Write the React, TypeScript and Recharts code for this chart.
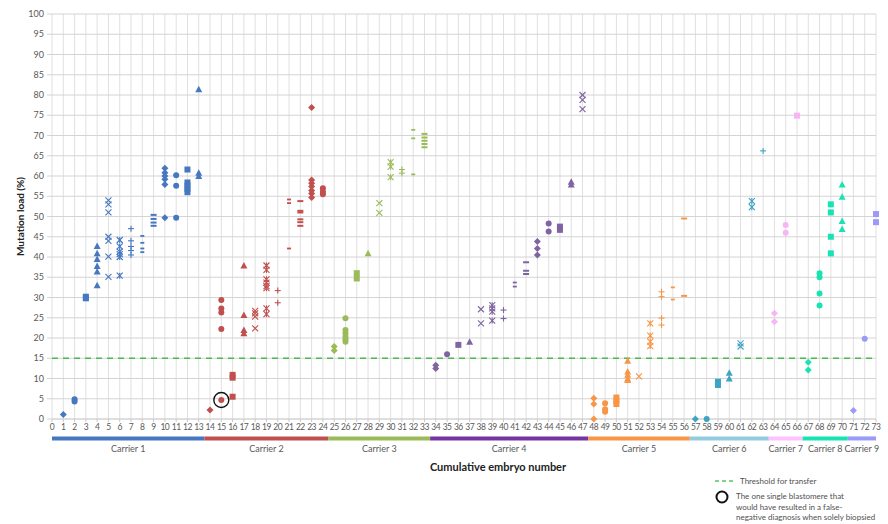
import {
  ScatterChart,
  Scatter,
  XAxis,
  YAxis,
  CartesianGrid,
  ReferenceLine,
  ReferenceArea,
  ReferenceDot,
} from "recharts";

// mutation load (%) of each blastomere, grouped by embryo, one list per carrier
const carrierNames = ["Carrier 1", "Carrier 2", "Carrier 3", "Carrier 4", "Carrier 5", "Carrier 6", "Carrier 7", "Carrier 8", "Carrier 9"];

const carrier1Loads = [
  [1.1],
  [4.9, 4.3],
  [30.2, 29.8],
  [42.7, 40.9, 39.5, 37.8, 36.4, 33],
  [54, 53, 51, 45, 44, 40.1, 35.1],
  [44.2, 42.6, 41.3, 40.7, 40, 35.4],
  [47, 44, 42.6, 41.6, 40.5],
  [45.2, 43.5, 42.1, 41.2],
  [50.4, 49.4, 48.5, 47.7],
  [61.9, 60.8, 60, 59.2, 57.9, 49.7],
  [60.2, 57.6, 49.7],
  [61.6, 58.4, 57.6, 56.8, 56],
  [81.4, 60.8, 60],
];
const carrier2Loads = [
  [2.2],
  [29.4, 27.3, 26.3, 22.2, 4.7],
  [10.9, 10.2, 5.5],
  [37.9, 25.7, 22, 21.2],
  [26.7, 26.1, 25.3, 22.4],
  [37.9, 36.8, 34.5, 33.7, 32.8, 32.3, 27.3, 25.9],
  [31.7, 28.7],
  [54.2, 53.3, 42.1],
  [53.8, 51.4, 51, 49.3, 48.6, 47.7],
  [76.9, 59, 58.2, 57.4, 56.4, 55.7, 54.7],
  [57, 56.1, 55.5],
];
const carrier3Loads = [
  [17.9, 16.9],
  [24.9, 22, 21.2, 20.3, 19.7, 19.1],
  [36, 34.7],
  [40.9],
  [53.3, 50.9],
  [63.4, 62.3, 59.7],
  [61.6, 60.7],
  [71.4, 69.3, 60.4],
  [70.4, 69.5, 68.7, 67.9, 67.1],
];
const carrier4Loads = [
  [13.3, 12.5],
  [16],
  [18.3],
  [19.1],
  [27.1, 23.6],
  [28.1, 27.3, 26.5, 24.3],
  [26.9, 24.8],
  [33.7, 32.7],
  [38.7, 36.6, 35.8],
  [43.8, 42.1, 40.5],
  [48.3, 46.3],
  [47.5, 46.7],
  [58.6, 57.9],
  [80, 78.8, 76.5],
];
const carrier5Loads = [
  [5.1, 3.7, 0],
  [3.9, 2.4, 1.8],
  [5.3, 4.5, 3.7],
  [14.4, 11.7, 10.9, 10, 9.6],
  [10.5],
  [23.6, 20.6, 19.1, 18],
  [31.4, 30.2, 24.9, 23.2],
  [32.5, 29.5],
  [49.5, 30.4],
];
const carrier6Loads = [[0], [0], [9.2, 8.4], [11.4, 10], [18.7, 17.9], [53.8, 52.3], [66.2]];
const carrier7Loads = [[26.1, 24], [47.9, 46], [74.9]];
const carrier8Loads = [[14, 12.1], [36, 35, 31, 28], [53, 51, 45, 40.9], [57.9, 54.9, 48.9, 46.9]];
const carrier9Loads = [[2.1], [19.8], [50.6, 48.6]];

const carrierLoads = [
  carrier1Loads, carrier2Loads, carrier3Loads, carrier4Loads, carrier5Loads,
  carrier6Loads, carrier7Loads, carrier8Loads, carrier9Loads,
];

const xTicks = Array.from({ length: 74 }, (_, i) => i);
const yTicks = Array.from({ length: 21 }, (_, i) => i * 5);
const threshold = 15;
const falseNegative = { embryo: 15, load: 4.7 };

const thresholdLabel = "Threshold for transfer";
const falseNegativeLines = [
  "The one single blastomere that",
  "would have resulted in a false-",
  "negative diagnosis when solely biopsied",
];

const markerColors = ["#4677c0", "#c0504d", "#9bbb59", "#8064a2", "#f79646", "#3fa3c3", "#f7b5f3", "#19e3b3", "#9b9bf7"];
const bandColors = ["#4677c0", "#c0504d", "#9bbb59", "#7435a3", "#f79646", "#93cddd", "#ffc2ff", "#19e3b3", "#9b9bf7"];

const FONT = "Lato, 'Liberation Sans', sans-serif";
const TEXT = "#595959";

let nextEmbryo = 1;
const carriers = carrierLoads.map((loads, c) => {
  const first = nextEmbryo;
  nextEmbryo += loads.length;
  const points = loads.flatMap((vals, i) =>
    vals.map((v) => ({ x: first + i, y: v, marker: i % 9 }))
  );
  return {
    name: carrierNames[c],
    points,
    from: c === 0 ? 0 : first - 0.5,
    to: Math.min(73, first + loads.length - 0.5),
  };
});

// Excel-like marker cycle: diamond, circle, square, triangle, x, star, plus, short dash, long dash
const MarkerShape = (props: any) => {
  const { cx, cy, fill, payload } = props;
  if (cx == null || cy == null) return null;
  const s = 3;
  switch (payload.marker) {
    case 0:
      return <polygon points={`${cx},${cy - s - 0.5} ${cx + s + 0.5},${cy} ${cx},${cy + s + 0.5} ${cx - s - 0.5},${cy}`} fill={fill} />;
    case 1:
      return <circle cx={cx} cy={cy} r={s} fill={fill} />;
    case 2:
      return <rect x={cx - s} y={cy - s} width={2 * s} height={2 * s} fill={fill} />;
    case 3:
      return <polygon points={`${cx},${cy - s - 0.5} ${cx + s + 0.5},${cy + s} ${cx - s - 0.5},${cy + s}`} fill={fill} />;
    case 4:
      return (
        <g stroke={fill} strokeWidth={1.1}>
          <line x1={cx - s} y1={cy - s} x2={cx + s} y2={cy + s} />
          <line x1={cx - s} y1={cy + s} x2={cx + s} y2={cy - s} />
        </g>
      );
    case 5:
      return (
        <g stroke={fill} strokeWidth={1.1}>
          <line x1={cx - s} y1={cy - s} x2={cx + s} y2={cy + s} />
          <line x1={cx - s} y1={cy + s} x2={cx + s} y2={cy - s} />
          <line x1={cx} y1={cy - s} x2={cx} y2={cy + s} />
        </g>
      );
    case 6:
      return (
        <g stroke={fill} strokeWidth={1.1}>
          <line x1={cx - s} y1={cy} x2={cx + s} y2={cy} />
          <line x1={cx} y1={cy - s} x2={cx} y2={cy + s} />
        </g>
      );
    case 7:
      return <rect x={cx - 2} y={cy - 0.9} width={4} height={1.8} fill={fill} />;
    default:
      return <rect x={cx - 3} y={cy - 1} width={6} height={2} fill={fill} />;
  }
};

const App = () => {
  return (
    <div style={{ position: "absolute", left: 0, top: 0, width: 888, height: 524, background: "#fff", fontFamily: FONT, overflow: "hidden" }}>
      <ScatterChart width={888} height={524} margin={{ top: 14, right: 12, bottom: 85, left: 22 }}>
        <CartesianGrid horizontal={false} stroke="#e0e0e0" />
        <CartesianGrid vertical={false} stroke="#d4d4d4" />
        <XAxis
          type="number"
          dataKey="x"
          domain={[0, 73]}
          ticks={xTicks}
          interval={0}
          height={20}
          axisLine={{ stroke: "#d4d4d4" }}
          tickLine={{ stroke: "#c8c8c8" }}
          tickSize={3}
          tickMargin={2}
          tick={{ fontSize: 8.5, fill: TEXT, fontFamily: FONT, letterSpacing: -0.5 }}
          label={{
            value: "Cumulative embryo number",
            position: "bottom",
            offset: 24,
            dx: 34,
            style: { fontSize: 11, fontWeight: 700, fill: "#222", fontFamily: FONT },
          }}
        />
        <YAxis
          type="number"
          dataKey="y"
          domain={[0, 100]}
          ticks={yTicks}
          interval={0}
          width={30}
          axisLine={false}
          tickLine={{ stroke: "#d4d4d4" }}
          tickSize={5}
          tickMargin={3}
          tick={{ fontSize: 9, fill: TEXT, fontFamily: FONT }}
          label={{
            value: "Mutation load (%)",
            angle: -90,
            position: "insideLeft",
            offset: -2,
            style: { textAnchor: "middle", fontSize: 10, fontWeight: 700, fill: "#222", fontFamily: FONT },
          }}
        />
        <ReferenceLine y={threshold} stroke="#4cbb50" strokeWidth={1.5} strokeDasharray="6 5" />
        {carriers.map((c, i) => (
          <ReferenceArea
            key={c.name}
            x1={c.from}
            x2={c.to}
            y1={-4.3}
            y2={-5.3}
            ifOverflow="visible"
            fill={bandColors[i]}
            fillOpacity={1}
            stroke="none"
            label={{ value: c.name, position: "bottom", offset: 5, fontSize: 9, fill: TEXT, fontFamily: FONT }}
          />
        ))}
        {carriers.map((c, i) => (
          <Scatter
            key={c.name}
            name={c.name}
            data={c.points}
            fill={markerColors[i]}
            shape={MarkerShape}
            isAnimationActive={false}
          />
        ))}
        <ReferenceDot
          x={falseNegative.embryo}
          y={falseNegative.load}
          r={7.5}
          fill="none"
          stroke="#111"
          strokeWidth={1.4}
        />
      </ScatterChart>
      <div style={{ position: "absolute", left: 713, top: 475, fontSize: 8, color: "#505050", lineHeight: "10.5px", whiteSpace: "nowrap" }}>
        <div style={{ display: "flex", alignItems: "center", height: 12 }}>
          <svg width={22} height={8}>
            <line x1={2} y1={4} x2={20} y2={4} stroke="#7fd486" strokeWidth={2} strokeDasharray="4 3" />
          </svg>
          <span style={{ marginLeft: 5 }}>{thresholdLabel}</span>
        </div>
        <div style={{ display: "flex", alignItems: "flex-start", marginTop: 2 }}>
          <svg width={16} height={16} style={{ marginLeft: 1 }}>
            <circle cx={8} cy={8} r={5.5} fill="none" stroke="#111" strokeWidth={2} />
          </svg>
          <div style={{ marginLeft: 6, marginTop: 2 }}>
            {falseNegativeLines.map((line) => (
              <div key={line}>{line}</div>
            ))}
          </div>
        </div>
      </div>
    </div>
  );
};

export default App;
